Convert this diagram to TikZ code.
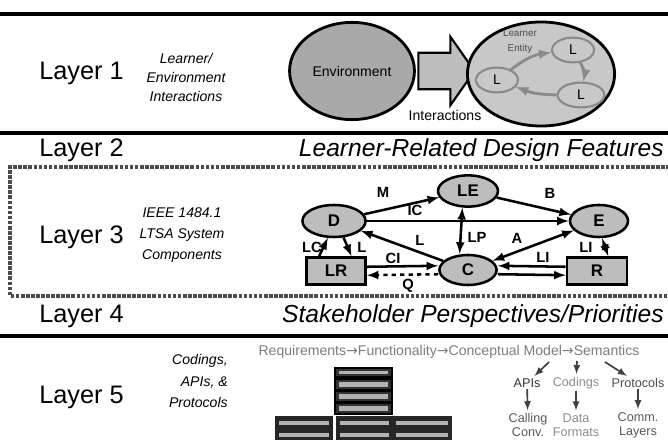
\documentclass[tikz,border=0pt]{standalone}
\usepackage{fontspec}
\setmainfont{Liberation Sans}
\newfontfamily\symfont{DejaVu Sans}
\usepackage{xcolor}
\usepackage{tikz}
\usetikzlibrary{shapes,arrows,positioning,fit,backgrounds}
\definecolor{envgray}{HTML}{A9A9A9}
\definecolor{entgray}{HTML}{C8C8C8}
\definecolor{ltsagray}{HTML}{BDBDBD}
\definecolor{lgray}{HTML}{8A8A8A}
\definecolor{txtgray}{HTML}{7C7C7C}
\tikzset{
    layername/.style={anchor=west, inner sep=0pt,
        font=\fontsize{18}{20}\selectfont},
    layernote/.style={align=center, inner sep=0pt,
        font=\fontsize{10}{13.5}\selectfont\itshape},
    layerhead/.style={anchor=east, inner sep=0pt,
        font=\fontsize{17.5}{20}\selectfont\itshape},
    rule/.style={line width=2.4pt},
    dotrule/.style={line width=3pt, color=black!70,
        dash pattern=on 2.6pt off 1pt},
    ltsanode/.style={ellipse, draw, line width=1.8pt,
        fill=ltsagray, inner sep=0pt,
        font=\fontsize{12}{12}\selectfont\bfseries},
    ltsabox/.style={rectangle, draw, line width=1.8pt,
        fill=ltsagray, inner sep=0pt,
        font=\fontsize{12}{12}\selectfont\bfseries},
    link/.style={->, >=latex, line width=1.8pt},
    linklabel/.style={inner sep=0pt,
        font=\fontsize{10.5}{11}\selectfont\bfseries},
    lnode/.style={ellipse, draw=lgray, line width=1.5pt,
        fill=entgray, inner sep=0pt,
        minimum width=1.05cm, minimum height=0.62cm,
        font=\fontsize{10}{10}\selectfont},
    lflow/.style={->, >=latex, line width=2pt, color=lgray},
    stackrow/.style={draw, line width=1.5pt, fill=black!80},
    stackbar/.style={fill=black!30},
    sublabel/.style={inner sep=1pt, align=center,
        font=\fontsize{9}{10}\selectfont},
    subarrow/.style={->, >=latex, line width=1.2pt, color=black!75,
        shorten >=1pt},
}

\begin{document}
\begin{tikzpicture}[x=0.025cm, y=-0.025cm]
    \useasboundingbox (0,0) rectangle (668,444);

    % Rules between the layers
    \draw[rule, line width=3pt] (0,14) -- (668,14);
    \draw[rule] (0,133) -- (668,133);
    \draw[dotrule] (670,167) -- (10,167) -- (10,296) -- (670,296);
    \draw[rule] (0,336) -- (668,336);

    % Layer names
    \node[layername] (lay1) at (39,73)  {Layer 1};
    \node[layername] (lay2) at (39,150) {Layer 2};
    \node[layername] (lay3) at (39,237) {Layer 3};
    \node[layername] (lay4) at (39,316) {Layer 4};
    \node[layername] (lay5) at (39,397) {Layer 5};

    % Layer notes and headings
    \node[layernote] (note1) at (186,77)
        {Learner/\\Environment\\Interactions};
    \node[layernote, font=\fontsize{10}{15}\selectfont\itshape] (note3) at (182,235)
        {IEEE 1484.1\\LTSA System\\Components};
    \node[layernote, align=right, anchor=east,
          font=\fontsize{10}{15.5}\selectfont\itshape] (note5) at (228,381)
        {Codings,\\APIs, \&\\Protocols};
    \node[layerhead] (head2) at (664,150) {Learner-Related Design Features};
    \node[layerhead] (head4) at (664,316) {Stakeholder Perspectives/Priorities};

    % Layer 1: learner / environment
    \node[ellipse, draw, line width=2pt, fill=envgray,
          minimum width=3.02cm, minimum height=2.43cm,
          font=\fontsize{10}{10}\selectfont] (env) at (352,71) {Environment};
    \node[single arrow, draw, line width=1.5pt, fill=envgray!75,
          minimum height=1.4cm, inner xsep=0pt, inner ysep=0.43cm,
          single arrow head extend=0.4cm, single arrow tip angle=110]
          (push) at (440,71) {};
    \node[ellipse, draw, line width=2pt, fill=entgray,
          minimum width=3.68cm, minimum height=2.6cm] (ent) at (541,74) {};
    \node[font=\fontsize{10}{10}\selectfont] (inter) at (445,115) {Interactions};
    \node[align=center, inner sep=0pt, text=black!70,
          font=\fontsize{7}{10.5}\selectfont] (entname) at (520,42) {Learner\\Entity};
    \node[lnode] (la) at (573,50) {L};
    \node[lnode] (lb) at (497,80) {L};
    \node[lnode, minimum width=1.17cm] (lc) at (581,95) {L};
    \draw[lflow] (lb) to[bend left=15] (la);
    \draw[lflow] (la) to[bend left=20] (lc);
    \draw[lflow] (lc) to[bend left=10] (lb);

    % Layer 3: LTSA components
    \node[ltsanode, minimum width=1.5cm, minimum height=0.78cm] (LE) at (468,191) {LE};
    \node[ltsanode, minimum width=1.58cm, minimum height=0.8cm] (D) at (334,221) {D};
    \node[ltsanode, minimum width=1.45cm, minimum height=0.8cm] (E) at (599,221) {E};
    \node[ltsanode, minimum width=1.43cm, minimum height=0.75cm] (C) at (468,270) {C};
    \node[ltsabox, minimum width=1.48cm, minimum height=0.68cm] (LR) at (336,271) {LR};
    \node[ltsabox, minimum width=1.5cm, minimum height=0.68cm] (R) at (597,271) {R};

    % Flows
    \draw[link] (D) -- (LE);
    \draw[link] (LE) -- (E);
    \draw[link] (D) -- (E);
    \draw[link, <->] ([xshift=-4pt]LE.south) -- ([xshift=-6pt]C.north);
    \draw[link, <->] (E) -- (C);
    \draw[link] (C) -- (D);
    \draw[link] ([xshift=-12pt]LR.north) -- (D.250);
    \draw[link] (D.300) -- ([xshift=11pt]LR.north);
    \draw[link] ([yshift=3pt]LR.east) -- ([yshift=3pt]C.west);
    \draw[link, dashed] ([yshift=-3pt]C.west) -- ([yshift=-3pt]LR.east);
    \draw[link] ([yshift=3pt]R.west) -- ([yshift=3pt]C.east);
    \draw[link] ([yshift=-3pt]C.east) -- ([yshift=-3pt]R.west);
    \draw[link, <->] (E.280) -- ([xshift=8pt]R.north);

    % Flow labels
    \node[linklabel] (tM)  at (383,192) {M};
    \node[linklabel] (tB)  at (550,193) {B};
    \node[linklabel] (tIC) at (415,210) {IC};
    \node[linklabel] (tLP) at (477,237) {LP};
    \node[linklabel] (tA)  at (517,238) {A};
    \node[linklabel] (tL)  at (420,240) {L};
    \node[linklabel] (tLC) at (312,247) {LC};
    \node[linklabel] (tLl) at (362,247) {L};
    \node[linklabel] (tCI) at (393,258) {CI};
    \node[linklabel] (tQ)  at (408,286) {Q};
    \node[linklabel] (tLI) at (543,257) {LI};
    \node[linklabel] (tLIe) at (586,247) {LI};

    % Layer 5: protocol stack
    \foreach \ya/\yb in {368/377, 379/390, 391/402, 403/414}{
        \draw[stackrow] (335,\ya) rectangle (392,\yb);
        \fill[stackbar] (339,{\ya+3}) rectangle (388,{\yb-3});
    }
    \fill[black!85] (275,416) rectangle (333,440);
    \fill[black!85] (336,416) rectangle (452,440);
    \foreach \xa/\xb in {279/329, 340/389, 396/448}{
        \foreach \yc in {421,433}
            \fill[stackbar] (\xa,\yc) rectangle (\xb,{\yc+4});
    }

    % Layer 5: from requirements to codings
    \node[sublabel, text=txtgray, font=\fontsize{10}{10}\selectfont] (req) at (449,352)
        {Requirements{\symfont→}Functionality{\symfont→}Conceptual Model{\symfont→}Semantics};
    \node[sublabel, text=black!80] (apis) at (527,383) {APIs};
    \node[sublabel, text=black!45] (cod) at (576,383) {Codings};
    \node[sublabel, text=black!70] (prot) at (638,383) {Protocols};
    \node[sublabel, text=black!65] (call) at (528,425) {Calling\\Conv.};
    \node[sublabel, text=black!45] (fmt) at (576,425) {Data\\Formats};
    \node[sublabel, text=black!65] (comm) at (638,425) {Comm.\\Layers};
    \coordinate (semL) at (549,362);
    \coordinate (semM) at (577,361);
    \coordinate (semR) at (605,362);
    \draw[subarrow] (semL) -- (apis);
    \draw[subarrow] (semM) -- (cod);
    \draw[subarrow] (semR) -- (prot);
    \draw[subarrow] (apis) -- (call);
    \draw[subarrow] (cod) -- (fmt);
    \draw[subarrow] (prot) -- (comm);

\end{tikzpicture}
\end{document}
